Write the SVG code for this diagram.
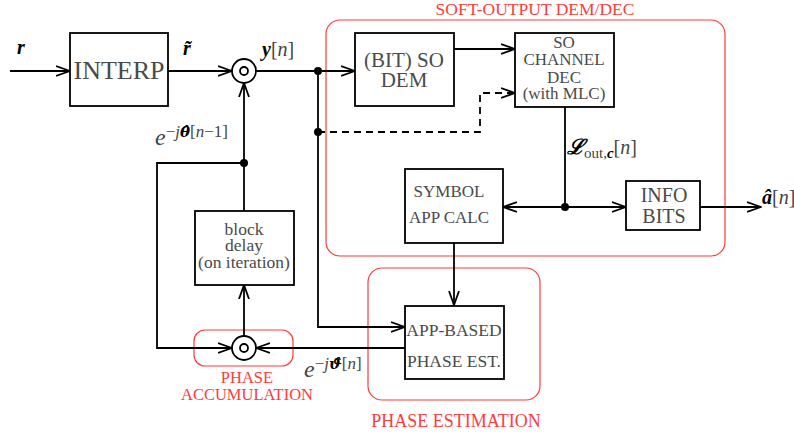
<svg xmlns="http://www.w3.org/2000/svg" width="794" height="436" viewBox="0 0 794 436">
<style>
.box{fill:#fff;stroke:#000;stroke-width:1.8}
.grp{fill:none;stroke:#ff3b3b;stroke-width:1.2}
.ln{fill:none;stroke:#000;stroke-width:1.8}
.dash{fill:none;stroke:#000;stroke-width:1.8;stroke-dasharray:7,5}
.bt{font-family:"Liberation Serif","DejaVu Serif",serif;fill:#4a4a4a;text-anchor:middle}
.rt{font-family:"Liberation Serif","DejaVu Serif",serif;fill:#ff3b3b;text-anchor:middle}
.m{font-family:"Liberation Serif","DejaVu Serif",serif;fill:#444;font-size:20px}
.bi{font-weight:bold;font-style:italic;fill:#000}
.dv{font-family:"DejaVu Serif",serif;font-weight:bold;font-style:italic;fill:#000}
.it{font-style:italic}
</style>
<defs>
<marker id="ar" markerWidth="15" markerHeight="12" refX="14" refY="6" orient="auto" markerUnits="userSpaceOnUse">
<path d="M0,1 L14,6 L0,11" fill="none" stroke="#000" stroke-width="1.8"/>
</marker>
</defs>

<g id="groups">
<rect class="grp" x="326" y="20" width="399" height="236" rx="14"/>
<text class="rt" x="535" y="15" font-size="17.5">SOFT-OUTPUT DEM/DEC</text>
<rect class="grp" x="368" y="268" width="172" height="132" rx="14"/>
<text class="rt" x="456" y="427" font-size="18">PHASE ESTIMATION</text>
<rect class="grp" x="194" y="330" width="99" height="36" rx="11"/>
<text class="rt" x="247" y="383" font-size="16.5">PHASE</text>
<text class="rt" x="247" y="400" font-size="16.5">ACCUMULATION</text>
</g>

<g id="connectors">
<path class="ln" d="M10,71 H70" marker-end="url(#ar)"/>
<path class="ln" d="M168,71 H232" marker-end="url(#ar)"/>
<path class="ln" d="M256,71 H355" marker-end="url(#ar)"/>
<path class="ln" d="M454,49 H515" marker-end="url(#ar)"/>
<path class="ln" d="M318,71 V327 H405" marker-end="url(#ar)"/>
<path class="dash" d="M318,132 H480 V93 H515" marker-end="url(#ar)"/>
<path class="ln" d="M565,107 V207"/>
<path class="ln" d="M565,207 H503" marker-end="url(#ar)"/>
<path class="ln" d="M565,207 H626" marker-end="url(#ar)"/>
<path class="ln" d="M700,207 H761" marker-end="url(#ar)"/>
<path class="ln" d="M454,243 V305" marker-end="url(#ar)"/>
<path class="ln" d="M405,348 H256" marker-end="url(#ar)"/>
<path class="ln" d="M244,336 V285" marker-end="url(#ar)"/>
<path class="ln" d="M244,211 V83" marker-end="url(#ar)"/>
<path class="ln" d="M244,163 H157 V348 H232" marker-end="url(#ar)"/>
<circle cx="318" cy="71" r="4"/>
<circle cx="318" cy="132" r="4"/>
<circle cx="565" cy="207" r="4"/>
<circle cx="244" cy="163" r="4"/>
</g>

<g id="labels">
<text class="m" x="17" y="54"><tspan class="bi">r</tspan></text>
<text class="m" x="183" y="55"><tspan class="bi">r̃</tspan></text>
<text class="m" x="262" y="56"><tspan class="bi">y</tspan>[<tspan class="it">n</tspan>]</text>
<text class="m" x="155" y="145"><tspan font-size="24" class="it">e</tspan><tspan font-size="17" dy="-8">−<tspan class="it">j</tspan><tspan class="dv" font-size="15">θ̂</tspan>[<tspan class="it">n</tspan>−1]</tspan></text>
<text class="m" x="567" y="154"><tspan class="bi" font-size="21">ℒ</tspan><tspan font-size="15" dy="4">out,<tspan class="bi">c</tspan></tspan><tspan dy="-4">[<tspan class="it">n</tspan>]</tspan></text>
<text class="m" x="762" y="204"><tspan class="bi">â</tspan>[<tspan class="it">n</tspan>]</text>
<text class="m" x="304" y="377"><tspan font-size="24" class="it">e</tspan><tspan font-size="17" dy="-8">−<tspan class="it">j</tspan><tspan class="dv" font-size="15">ϑ̂</tspan>[<tspan class="it">n</tspan>]</tspan></text>
</g>

<g id="interp">
<rect class="box" x="70" y="33" width="98" height="73"/>
<text class="bt" x="119" y="79" font-size="26">INTERP</text>
</g>

<g id="mult1">
<circle cx="244" cy="71" r="12" fill="#fff" stroke="#000" stroke-width="1.8"/>
<circle cx="244" cy="71" r="4" fill="#fff" stroke="#000" stroke-width="1.8"/>
</g>

<g id="sodem">
<rect class="box" x="355" y="33" width="99" height="73"/>
<text class="bt" x="404" y="67" font-size="21">(BIT) SO</text>
<text class="bt" x="404" y="87" font-size="21">DEM</text>
</g>

<g id="sodec">
<rect class="box" x="515" y="33" width="99" height="74"/>
<text class="bt" x="564" y="48" font-size="17">SO</text>
<text class="bt" x="564" y="65" font-size="17">CHANNEL</text>
<text class="bt" x="564" y="83" font-size="17">DEC</text>
<text class="bt" x="564" y="99" font-size="17">(with MLC)</text>
</g>

<g id="symapp">
<rect class="box" x="405" y="169" width="98" height="74"/>
<text class="bt" x="449" y="197" font-size="17">SYMBOL</text>
<text class="bt" x="449" y="223" font-size="17">APP CALC</text>
</g>

<g id="infobits">
<rect class="box" x="626" y="181" width="74" height="49"/>
<text class="bt" x="664" y="202" font-size="20">INFO</text>
<text class="bt" x="664" y="223" font-size="20">BITS</text>
</g>

<g id="appphase">
<rect class="box" x="405" y="306" width="99" height="73"/>
<text class="bt" x="454" y="336" font-size="17.5">APP-BASED</text>
<text class="bt" x="454" y="367" font-size="17.5">PHASE EST.</text>
</g>

<g id="delay">
<rect class="box" x="195" y="211" width="99" height="74"/>
<text class="bt" x="244" y="235" font-size="17.5">block</text>
<text class="bt" x="244" y="251" font-size="17.5">delay</text>
<text class="bt" x="244" y="268" font-size="17.5">(on iteration)</text>
</g>

<g id="mult2">
<circle cx="244" cy="348" r="12" fill="#fff" stroke="#000" stroke-width="1.8"/>
<circle cx="244" cy="348" r="4" fill="#fff" stroke="#000" stroke-width="1.8"/>
</g>
</svg>
